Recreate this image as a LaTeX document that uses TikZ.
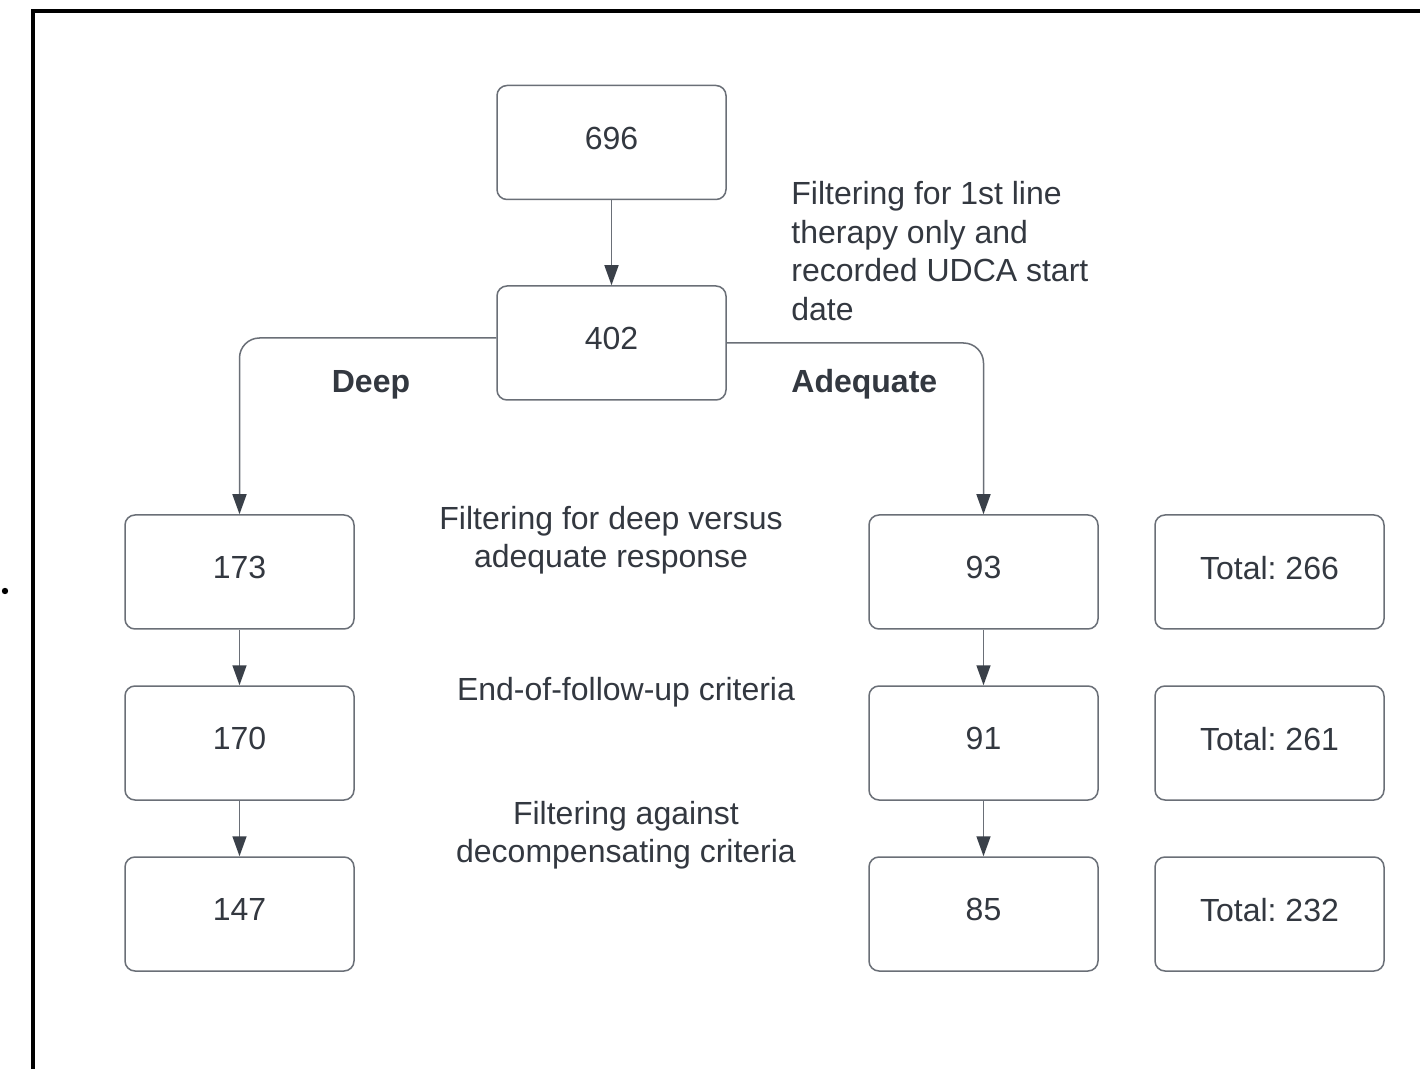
\documentclass[tikz,border=0pt]{standalone}
\usepackage{fontspec}
\setmainfont{Liberation Sans}
\usetikzlibrary{arrows.meta}
\definecolor{linegray}{HTML}{6A6F77}
\definecolor{headdark}{HTML}{3A4049}
\definecolor{txt}{HTML}{333840}
\frenchspacing
\begin{document}
\begin{tikzpicture}[x=0.5pt,y=-0.5pt,
  every node/.style={text=txt,font=\fontsize{16pt}{19.25pt}\selectfont},
  box/.style={draw=linegray,line width=0.75pt,rounded corners=5pt,minimum width=114.5pt,minimum height=57pt,inner sep=0pt,text depth=4.5pt},
  lbl/.style={inner sep=0pt,align=center},
  conn/.style={draw=linegray,line width=0.75pt,-{Triangle[width=7pt,length=10pt,color=headdark]}}
]
\useasboundingbox (0,0) rectangle (1420,1069);
\fill[white] (0,0) rectangle (1420,1069);
% frame
\draw[line width=1.6pt,black] (1421,11) -- (33,11) -- (33,1070);
\fill[black] (5,591) circle (1.6pt);
% boxes
\node[box] (n696) at (611.5,142.5) {696};
\node[box] (n402) at (611.5,343) {402};
\node[box] (n173) at (239.5,572) {173};
\node[box] (n170) at (239.5,743) {170};
\node[box] (n147) at (239.5,914) {147};
\node[box] (n93) at (983.5,572) {93};
\node[box] (n91) at (983.5,743) {91};
\node[box] (n85) at (983.5,914) {85};
\node[box] (t266) at (1269.5,572) {Total:\ 266};
\node[box] (t261) at (1269.5,743) {Total:\ 261};
\node[box] (t232) at (1269.5,914) {Total:\ 232};
% connectors
\draw[conn] (n696) -- (n402);
\draw[conn,rounded corners=10pt] ([yshift=2.5pt]n402.west) -| (n173.north);
\draw[conn,rounded corners=10pt] (n402.east) -| (n93.north);
\draw[conn] (n173) -- (n170);
\draw[conn] (n170) -- (n147);
\draw[conn] (n93) -- (n91);
\draw[conn] (n91) -- (n85);
% labels
\node[lbl,align=left,anchor=west] (f1) at (791,251) {Filtering for 1st line\\therapy only and\\recorded UDCA start\\date};
\node[lbl,font=\fontsize{16pt}{19.25pt}\selectfont\bfseries] (ldeep) at (371,385) {Deep};
\node[lbl,anchor=west,font=\fontsize{16pt}{19.25pt}\selectfont\bfseries] (ladeq) at (791,384) {Adequate};
\node[lbl] (f2) at (611,540) {Filtering for deep versus\\adequate response};
\node[lbl] (f3) at (626,692) {End-of-follow-up criteria};
\node[lbl] (f4) at (626,835) {Filtering against\\decompensating criteria};
\end{tikzpicture}
\end{document}
